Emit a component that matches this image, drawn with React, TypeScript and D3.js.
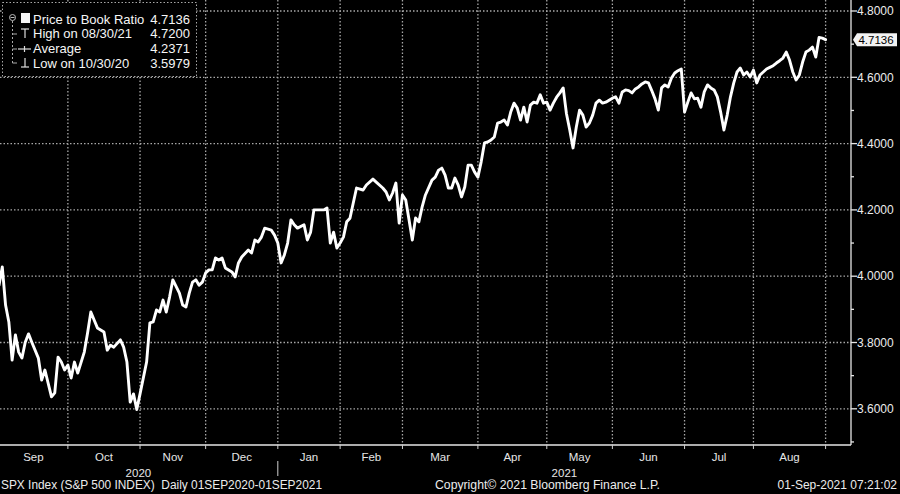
import React from 'react';
import * as d3 from 'd3';

// Trading-day index since 01-Sep-2020 and the Price to Book ratio
const dayIndex = [
  0, 1, 2, 3, 4, 5, 6, 7, 8, 9, 10, 12, 13, 14, 16, 17, 18, 19, 20, 21, 22, 23, 24, 26, 27, 28, 29, 30, 32, 33,
  34, 35, 37, 38, 39, 40, 41, 42, 43, 45, 46, 47, 48, 49, 50, 51, 52, 53, 55, 56, 57, 58, 59, 60, 61, 62, 63, 64,
  65, 66, 67, 68, 69, 71, 72, 73, 74, 76, 77, 78, 79, 80, 81, 83, 84, 85, 86, 87, 88, 89, 90, 91, 93, 94, 95, 96,
  98, 99, 100, 101, 102, 103, 104, 105, 106, 107, 108, 109, 111, 112, 114, 115, 117, 118, 119, 120, 121, 122, 123,
  124, 125, 126, 127, 128, 129, 130, 132, 133, 134, 135, 136, 137, 138, 139, 140, 141, 142, 143, 144, 145, 146, 147,
  148, 149, 150, 151, 152, 153, 154, 155, 156, 157, 158, 159, 160, 161, 162, 163, 164, 165, 166, 167, 168, 169, 170,
  171, 172, 173, 174, 175, 176, 177, 178, 179, 180, 181, 182, 183, 184, 185, 186, 187, 188, 189, 190, 191, 192, 193,
  194, 195, 196, 197, 198, 199, 200, 201, 202, 203, 204, 205, 206, 207, 208, 209, 210, 211, 212, 213, 214, 215, 216,
  217, 218, 219, 220, 221, 222, 223, 224, 225, 226, 227, 228, 229, 230, 231, 232, 233, 234, 235, 236, 237, 238, 239,
  240, 241, 242, 243, 244, 245, 246, 247, 248, 249, 250, 251, 252,
];
const ratio = [
  3.973, 4.028, 3.913, 3.862, 3.747, 3.823, 3.771, 3.753, 3.801, 3.826, 3.801, 3.753, 3.687, 3.717, 3.636, 3.648,
  3.756, 3.741, 3.717, 3.732, 3.693, 3.741, 3.708, 3.771, 3.829, 3.892, 3.868, 3.844, 3.832, 3.777,
  3.792, 3.786, 3.808, 3.786, 3.741, 3.62, 3.645, 3.598, 3.645, 3.741, 3.859, 3.862, 3.898, 3.892, 3.928, 3.892,
  3.937, 3.989, 3.949, 3.913, 3.907, 3.949, 3.982, 3.989, 3.973, 3.982, 4.01, 4.019,
  4.019, 4.055, 4.049, 4.055, 4.025, 4.013, 3.998, 4.04, 4.058, 4.079, 4.07, 4.109, 4.103, 4.118, 4.145, 4.139,
  4.124, 4.1, 4.04, 4.064, 4.1, 4.17, 4.155, 4.145, 4.155, 4.109, 4.133, 4.2,
  4.2, 4.2, 4.206, 4.1, 4.133, 4.085, 4.1, 4.118, 4.164, 4.175, 4.221, 4.266, 4.26, 4.275, 4.293, 4.284, 4.266,
  4.254, 4.23, 4.251, 4.281, 4.16, 4.245,
  4.23, 4.17, 4.109, 4.176, 4.164, 4.209, 4.245, 4.29, 4.299, 4.32, 4.326, 4.305, 4.266, 4.266, 4.296, 4.275,
  4.239, 4.269, 4.335, 4.335, 4.314, 4.299, 4.345,
  4.402, 4.405, 4.411, 4.42, 4.462, 4.465, 4.471, 4.456, 4.495, 4.522, 4.507, 4.471, 4.51, 4.465, 4.516, 4.525,
  4.522, 4.547, 4.522, 4.525, 4.501, 4.522, 4.54,
  4.553, 4.568, 4.49, 4.441, 4.387, 4.45, 4.501, 4.486, 4.45, 4.462, 4.486, 4.522, 4.531, 4.522, 4.525, 4.531,
  4.537, 4.541, 4.522, 4.556, 4.562, 4.56, 4.553,
  4.565, 4.571, 4.58, 4.586, 4.583, 4.56, 4.535, 4.501, 4.568, 4.577, 4.571, 4.598, 4.613, 4.62, 4.625, 4.495,
  4.525, 4.553, 4.535, 4.537, 4.51, 4.556, 4.577,
  4.568, 4.562, 4.541, 4.495, 4.441, 4.486, 4.541, 4.583, 4.616, 4.628, 4.607, 4.616, 4.601, 4.622, 4.583, 4.607,
  4.616, 4.625, 4.63, 4.635, 4.643, 4.65, 4.658,
  4.676, 4.652, 4.616, 4.592, 4.607, 4.646, 4.676, 4.682, 4.691, 4.661, 4.72, 4.718, 4.7136,
];

const monthLabels = ['Sep', 'Oct', 'Nov', 'Dec', 'Jan', 'Feb', 'Mar', 'Apr', 'May', 'Jun', 'Jul', 'Aug'];
const monthStartIdx = [0, 21, 43, 63, 85, 104, 123, 146, 167, 187, 209, 230, 252];
const yearLabels = ['2020', '2021'];
const yTicks = [3.6, 3.8, 4.0, 4.2, 4.4, 4.6, 4.8];
const yMinorTicks = [3.5, 3.7, 3.9, 4.1, 4.3, 4.5, 4.7];
const legendLabels = ['Price to Book Ratio', 'High on 08/30/21', 'Average', 'Low on 10/30/20'];
const legendValues = ['4.7136', '4.7200', '4.2371', '3.5979'];
const lastValueLabel = '4.7136';
const footerLeft = 'SPX Index (S&P 500 INDEX)  Daily 01SEP2020-01SEP2021';
const footerMid = 'Copyright\u00A9 2021 Bloomberg Finance L.P.';
const footerRight = '01-Sep-2021 07:21:02';

const W = 900;
const H = 494;
const axisX = 851;
const axisY = 445;
const FONT = '"Liberation Sans", Arial, sans-serif';

export default function App() {
  const x = d3.scaleLinear().domain([0, 252]).range([-1, 825.6]);
  const y = d3.scaleLinear().domain([3.6, 4.8]).range([408.8, 11]);
  const pts = dayIndex.map((d, i) => [d, ratio[i]] as [number, number]);
  const line = d3
    .line<[number, number]>()
    .x((d) => x(d[0]))
    .y((d) => y(d[1]));
  const lastY = y(ratio[ratio.length - 1]);
  const grid = '#a8a8a8';
  const gridDash = '1.5 2';

  return (
    <svg
      width={W}
      height={H}
      style={{ position: 'absolute', left: 0, top: 0, background: '#000' }}
      fontFamily={FONT}
    >
      <rect x={0} y={0} width={W} height={H} fill="#000" />
      {yTicks.map((t) => (
        <line key={'hg' + t} x1={0} x2={axisX} y1={y(t)} y2={y(t)} stroke={grid} strokeWidth={1.3} strokeDasharray={gridDash} />
      ))}
      {monthStartIdx.slice(1).map((m) => (
        <line key={'vg' + m} x1={x(m)} x2={x(m)} y1={0} y2={axisY} stroke={grid} strokeWidth={1.3} strokeDasharray={gridDash} />
      ))}
      <line x1={0} x2={axisX} y1={axisY} y2={axisY} stroke="#e6e6e6" strokeWidth={1.3} />
      <line x1={axisX} x2={axisX} y1={0} y2={axisY} stroke="#e6e6e6" strokeWidth={1.3} />
      {monthStartIdx.slice(1).map((m) => (
        <line key={'xt' + m} x1={x(m)} x2={x(m)} y1={axisY} y2={axisY + 4} stroke="#cfcfcf" strokeWidth={1} />
      ))}
      {yTicks.map((t) => (
        <g key={'yt' + t}>
          <line x1={axisX} x2={axisX + 6} y1={y(t)} y2={y(t)} stroke="#e6e6e6" strokeWidth={1.3} />
          <text x={axisX + 6} y={y(t)} dy="0.35em" fill="#ececec" fontSize={12}>
            {t.toFixed(4)}
          </text>
        </g>
      ))}
      {yMinorTicks.map((t) => (
        <line key={'ym' + t} x1={axisX} x2={axisX + 3} y1={y(t)} y2={y(t)} stroke="#e6e6e6" strokeWidth={1.3} />
      ))}
      {monthLabels.map((m, i) => (
        <text
          key={m}
          x={(x(monthStartIdx[i]) + x(monthStartIdx[i + 1])) / 2}
          y={461}
          textAnchor="middle"
          fill="#e6e6e6"
          fontSize={11.5}
        >
          {m}
        </text>
      ))}
      <text x={(x(0) + x(85)) / 2} y={477} textAnchor="middle" fill="#e6e6e6" fontSize={11.5}>
        {yearLabels[0]}
      </text>
      <text x={(x(85) + axisX) / 2} y={477} textAnchor="middle" fill="#e6e6e6" fontSize={11.5}>
        {yearLabels[1]}
      </text>
      <line x1={x(85)} x2={x(85)} y1={461} y2={476} stroke="#d0d0d0" strokeWidth={1} />
      <text x={1} y={489} fill="#ececec" fontSize={12} textLength={321} lengthAdjust="spacingAndGlyphs" xmlSpace="preserve">
        {footerLeft}
      </text>
      <text x={435} y={489} fill="#ececec" fontSize={12} textLength={225} lengthAdjust="spacingAndGlyphs">
        {footerMid}
      </text>
      <text x={897} y={489} fill="#ececec" fontSize={12} textAnchor="end">
        {footerRight}
      </text>
      <path d={line(pts) || ''} fill="none" stroke="#fff" strokeWidth={2.9} strokeLinejoin="round" strokeLinecap="round" />
      <polygon
        points={`${axisX + 2},${lastY} ${axisX + 6},${lastY - 6.5} ${897},${lastY - 6.5} ${897},${lastY + 6.5} ${axisX + 6},${lastY + 6.5}`}
        fill="#f2f2f2"
      />
      <text x={876} y={lastY} dy="0.35em" textAnchor="middle" fill="#000" fontSize={11.5}>
        {lastValueLabel}
      </text>
      <rect x={2.5} y={2.5} width={194} height={74} fill="#000" stroke={grid} strokeWidth={1} strokeDasharray={gridDash} />
      <circle cx={12.5} cy={17.5} r={3} fill="none" stroke="#bbb" strokeWidth={1} />
      <line x1={10.5} x2={14.5} y1={17.5} y2={17.5} stroke="#bbb" strokeWidth={1} />
      <line x1={12.5} x2={12.5} y1={21} y2={63} stroke="#aaa" strokeWidth={1} strokeDasharray="2 2" />
      {[34, 49, 63].map((ry) => (
        <line key={'br' + ry} x1={12.5} x2={17} y1={ry} y2={ry} stroke="#aaa" strokeWidth={1} />
      ))}
      <rect x={21} y={13} width={9} height={10} fill="#f4f4f4" />
      <line x1={21} x2={29} y1={29} y2={29} stroke="#ddd" strokeWidth={1.2} />
      <line x1={25} x2={25} y1={29} y2={38} stroke="#ddd" strokeWidth={1.2} />
      <line x1={18} x2={31} y1={49} y2={49} stroke="#ddd" strokeWidth={1.2} />
      <line x1={24.5} x2={24.5} y1={46} y2={52} stroke="#ddd" strokeWidth={1.2} />
      <line x1={25} x2={25} y1={58} y2={67} stroke="#ddd" strokeWidth={1.2} />
      <line x1={21} x2={29} y1={67} y2={67} stroke="#ddd" strokeWidth={1.2} />
      {legendLabels.map((l, i) => (
        <g key={l}>
          <text x={33} y={23.5 + i * 14.7} fill="#f6f6f6" fontSize={13}>
            {l}
          </text>
          <text x={190} y={23.5 + i * 14.7} fill="#f6f6f6" fontSize={13} textAnchor="end">
            {legendValues[i]}
          </text>
        </g>
      ))}
    </svg>
  );
}
